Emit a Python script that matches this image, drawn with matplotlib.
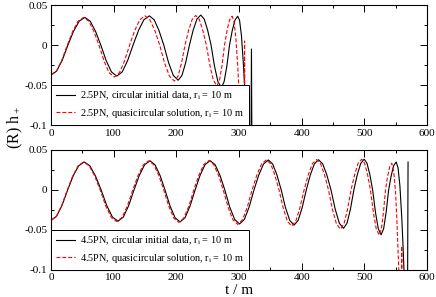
import matplotlib
matplotlib.use('Agg')
import matplotlib.pyplot as plt
from matplotlib.ticker import MultipleLocator

plt.rcParams['font.family'] = ['Liberation Serif', 'DejaVu Serif']
plt.rcParams['mathtext.fontset'] = 'custom'
plt.rcParams['mathtext.rm'] = 'Liberation Serif'
plt.rcParams['mathtext.it'] = 'Liberation Serif:italic'
plt.rcParams['axes.unicode_minus'] = False

# values (t/m, (R) h+)
t_25_circ = [0, 9, 18, 27, 36, 45, 54,
             62.5, 71, 79.5, 88, 96.5, 105,
             113.7, 122.3, 131, 139.7, 148.3, 157,
             164.7, 172.3, 180, 187.7, 195.3, 203,
             209, 215, 221, 227, 233, 239,
             244.5, 250, 255.5, 261, 266.5, 272,
             276.3, 280.7, 285, 289.3, 293.7, 298,
             301, 304, 307, 310, 312, 314, 316, 319, 320, 321]
h_25_circ = [-0.0375, -0.0325, -0.0188, 0, 0.0173, 0.0299, 0.0345,
             0.0299, 0.0173, 0, -0.0194, -0.0336, -0.0388,
             -0.0336, -0.0194, 0, 0.0183, 0.0316, 0.0365,
             0.0316, 0.0183, 0, -0.022, -0.0381, -0.044,
             -0.0381, -0.022, 0, 0.0188, 0.0325, 0.0375,
             0.0325, 0.0188, 0, -0.0265, -0.0459, -0.053,
             -0.0459, -0.0265, 0, 0.018, 0.0312, 0.036,
             0.031, 0.012, -0.022, -0.065, -0.1, -0.14, -0.17, -0.17, -0.005, -0.17]

t_25_quasi = [0, 8.7, 17.3, 26, 34.7, 43.3, 52,
              60.2, 68.3, 76.5, 84.7, 92.8, 101,
              109.2, 117.3, 125.5, 133.7, 141.8, 150,
              157.8, 165.7, 173.5, 181.3, 189.2, 197,
              202.7, 208.3, 214, 219.7, 225.3, 231,
              236.7, 242.3, 248, 253.7, 259.3, 265,
              269, 273, 277, 281, 285, 289,
              292, 295, 298, 301, 303, 305, 308, 309, 310]
h_25_quasi = [-0.0375, -0.0325, -0.0188, 0, 0.0173, 0.0299, 0.0345,
              0.0299, 0.0173, 0, -0.02, -0.0346, -0.04,
              -0.0346, -0.02, 0, 0.0183, 0.0316, 0.0365,
              0.0316, 0.0183, 0, -0.0225, -0.039, -0.045,
              -0.039, -0.0225, 0, 0.0185, 0.032, 0.037,
              0.032, 0.0185, 0, -0.0255, -0.0442, -0.051,
              -0.0442, -0.0255, 0, 0.018, 0.0312, 0.036,
              0.03, 0.01, -0.025, -0.07, -0.105, -0.17, -0.17, 0.005, -0.17]

t_45_circ = [0, 8.8, 17.7, 26.5, 35.3, 44.2, 53,
             62, 71, 80, 89, 98, 107,
             115.5, 124, 132.5, 141, 149.5, 158,
             166, 174, 182, 190, 198, 206,
             214, 222, 230, 238, 246, 254,
             261.8, 269.7, 277.5, 285.3, 293.2, 301,
             308.7, 316.3, 324, 331.7, 339.3, 347,
             353.8, 360.7, 367.5, 374.3, 381.2, 388,
             394.5, 401, 407.5, 414, 420.5, 427,
             433.7, 440.3, 447, 453.7, 460.3, 467,
             472.5, 478, 483.5, 489, 494.5, 500,
             504.5, 509, 513.5, 518, 522.5, 527,
             531, 535, 539, 543, 547, 551,
             554, 557, 560, 562, 564, 566, 569, 570]
h_45_circ = [-0.038, -0.0329, -0.019, 0, 0.0175, 0.0303, 0.035,
             0.0303, 0.0175, 0, -0.0195, -0.0338, -0.039,
             -0.0338, -0.0195, 0, 0.0183, 0.0316, 0.0365,
             0.0316, 0.0183, 0, -0.02, -0.0346, -0.04,
             -0.0346, -0.02, 0, 0.0184, 0.0318, 0.0367,
             0.0318, 0.0184, 0, -0.0213, -0.0368, -0.0425,
             -0.0368, -0.0213, 0, 0.0188, 0.0325, 0.0375,
             0.0325, 0.0188, 0, -0.022, -0.0381, -0.044,
             -0.0381, -0.022, 0, 0.0189, 0.0327, 0.0378,
             0.0327, 0.0189, 0, -0.024, -0.0416, -0.048,
             -0.0416, -0.024, 0, 0.0193, 0.0333, 0.0385,
             0.0333, 0.0193, 0, -0.028, -0.0485, -0.056,
             -0.0485, -0.028, 0, 0.0175, 0.0303, 0.035,
             0.028, 0.005, -0.035, -0.07, -0.11, -0.17, -0.17, 0.035]

t_45_quasi = [0, 8.7, 17.3, 26, 34.7, 43.3, 52,
              60.8, 69.7, 78.5, 87.3, 96.2, 105,
              113.5, 122, 130.5, 139, 147.5, 156,
              164, 172, 180, 188, 196, 204,
              212, 220, 228, 236, 244, 252,
              259.7, 267.3, 275, 282.7, 290.3, 298,
              305.7, 313.3, 321, 328.7, 336.3, 344,
              350.7, 357.3, 364, 370.7, 377.3, 384,
              390.7, 397.3, 404, 410.7, 417.3, 424,
              430.3, 436.7, 443, 449.3, 455.7, 462,
              467.7, 473.3, 479, 484.7, 490.3, 496,
              500.7, 505.3, 510, 514.7, 519.3, 524,
              527.3, 530.7, 534, 537.3, 540.7, 544,
              547, 550, 552, 554, 556, 558, 560, 561.5]
h_45_quasi = [-0.038, -0.0329, -0.019, 0, 0.0175, 0.0303, 0.035,
              0.0303, 0.0175, 0, -0.0198, -0.0342, -0.0395,
              -0.0342, -0.0198, 0, 0.0183, 0.0316, 0.0365,
              0.0316, 0.0183, 0, -0.0203, -0.0351, -0.0405,
              -0.0351, -0.0203, 0, 0.0184, 0.0319, 0.0368,
              0.0319, 0.0184, 0, -0.0215, -0.0372, -0.043,
              -0.0372, -0.0215, 0, 0.0189, 0.0327, 0.0378,
              0.0327, 0.0189, 0, -0.0225, -0.039, -0.045,
              -0.039, -0.0225, 0, 0.019, 0.0329, 0.038,
              0.0329, 0.019, 0, -0.0245, -0.0424, -0.049,
              -0.0424, -0.0245, 0, 0.0193, 0.0333, 0.0385,
              0.0333, 0.0193, 0, -0.0283, -0.0489, -0.0565,
              -0.0489, -0.0283, 0, 0.0168, 0.029, 0.0335,
              0.024, -0.002, -0.035, -0.075, -0.115, -0.17, -0.07, -0.17]

labels_top = [r'2.5PN, circular initial data, r$_\mathrm{i}$ = 10 m',
              r'2.5PN, quasicircular solution, r$_\mathrm{i}$ = 10 m']
labels_bot = [r'4.5PN, circular initial data, r$_\mathrm{i}$ = 10 m',
              r'4.5PN, quasicircular solution, r$_\mathrm{i}$ = 10 m']

fig = plt.figure(figsize=(4.36, 2.97), dpi=100)
ax1 = fig.add_axes([0.117, 0.579, 0.862, 0.404])
ax2 = fig.add_axes([0.117, 0.091, 0.862, 0.404])

panels = [(ax1, t_25_circ, h_25_circ, t_25_quasi, h_25_quasi, labels_top),
          (ax2, t_45_circ, h_45_circ, t_45_quasi, h_45_quasi, labels_bot)]

for ax, tc, hc, tq, hq, labs in panels:
    ax.plot(tc, hc, color='black', lw=0.8, label=labs[0])
    ax.plot(tq, hq, color='red', lw=0.8, dashes=(3.5, 1.8), label=labs[1])
    ax.set_xlim(0, 600)
    ax.set_ylim(-0.1, 0.05)
    ax.xaxis.set_major_locator(MultipleLocator(100))
    ax.xaxis.set_minor_locator(MultipleLocator(50))
    ax.yaxis.set_major_locator(MultipleLocator(0.05))
    ax.yaxis.set_minor_locator(MultipleLocator(0.025))
    ax.set_yticks([-0.1, -0.05, 0, 0.05])
    ax.set_yticklabels(['-0.1', '-0.05', '0', '0.05'])
    ax.tick_params(which='both', direction='in', top=True, right=True,
                   labelsize=8, pad=2.5, width=0.7)
    ax.tick_params(which='major', length=5)
    ax.tick_params(which='minor', length=2.5)
    for s in ax.spines.values():
        s.set_linewidth(0.8)
    leg = ax.legend(loc='lower left', bbox_to_anchor=(0, 0), borderaxespad=0,
                    fontsize=7.4, fancybox=False, edgecolor='black',
                    framealpha=1, handlelength=1.8, handletextpad=0.5,
                    borderpad=0.5, labelspacing=0.45)
    leg.get_frame().set_linewidth(0.7)

fig.text(0.548, 0.022, 't / m', fontsize=11, ha='center', va='center')
fig.text(0.035, 0.57, r'(R) h$_+$', rotation=90, fontsize=11.5,
         ha='center', va='center')

plt.savefig('out.png', dpi=100)
